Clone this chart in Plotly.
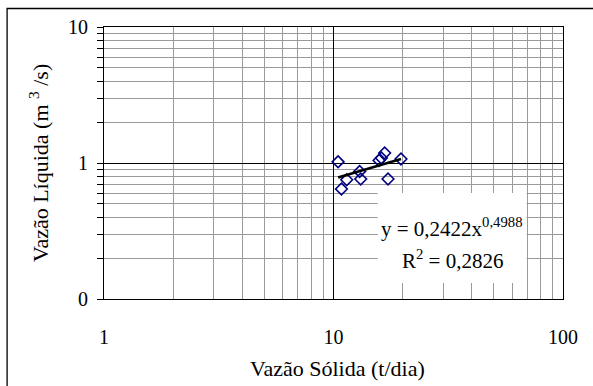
import numpy as np
import plotly.graph_objects as go

# data
vazao_solida = [10.47, 10.83, 11.42, 13.0, 13.14, 15.79, 16.17, 16.71, 17.28, 19.68]
vazao_liquida = [1.02, 0.644, 0.753, 0.867, 0.762, 1.045, 1.088, 1.184, 0.762, 1.07]

# power trendline y = a x^b (from label)
coef_a = 0.2422
coef_b = 0.4988
r2 = 0.2826

x_tickvals = [1, 10, 100]
x_ticktext = ["1", "10", "100"]
x_minorvals = [2, 3, 4, 5, 6, 7, 8, 9, 20, 30, 40, 50, 60, 70, 80, 90]
y_tickvals = [0.1, 1, 10]
y_ticktext = ["0", "1", "10"]
y_minorvals = [0.2, 0.3, 0.4, 0.5, 0.6, 0.7, 0.8, 0.9, 2, 3, 4, 5, 6, 7, 8, 9]

FONT = "Liberation Serif"

trend_x = np.linspace(min(vazao_solida), max(vazao_solida), 40)
trend_y = coef_a * trend_x ** coef_b

fig = go.Figure()
fig.add_trace(go.Scatter(
    x=vazao_solida, y=vazao_liquida, mode="markers",
    marker=dict(symbol="diamond-open", size=9, color="#000080", line=dict(width=1.6, color="#000080")),
    showlegend=False, hoverinfo="skip"))
fig.add_trace(go.Scatter(
    x=trend_x, y=trend_y, mode="lines",
    line=dict(color="black", width=2.6),
    showlegend=False, hoverinfo="skip"))

L, R, T, B = 104, 29.5, 27, 87
W, H = 593, 386
pw, ph = W - L - R, H - T - B

def px2paper_x(px):
    return (px - L) / pw

def px2paper_y(py):
    return (H - B - py) / ph

shapes = [
    dict(type="rect", xref="paper", yref="paper",
         x0=px2paper_x(378), x1=px2paper_x(527), y0=px2paper_y(283), y1=px2paper_y(193),
         fillcolor="white", line=dict(width=0), layer="above"),
    dict(type="rect", xref="paper", yref="paper",
         x0=px2paper_x(7), x1=px2paper_x(620), y0=px2paper_y(410), y1=px2paper_y(8.5),
         fillcolor="rgba(0,0,0,0)", line=dict(color="black", width=1.3), layer="above"),
]

annotations = [
    dict(xref="paper", yref="paper", x=px2paper_x(452), y=px2paper_y(227),
         text=f"y = {str(coef_a).replace('.', ',')}x<sup>{str(coef_b).replace('.', ',')}</sup>",
         showarrow=False, font=dict(family=FONT, size=21, color="black"), xanchor="center", yanchor="middle"),
    dict(xref="paper", yref="paper", x=px2paper_x(453), y=px2paper_y(259),
         text=f"R<sup>2</sup> = {str(r2).replace('.', ',')}",
         showarrow=False, font=dict(family=FONT, size=21, color="black"), xanchor="center", yanchor="middle"),
    dict(xref="paper", yref="paper", x=px2paper_x(338), y=px2paper_y(368),
         text="Vazão Sólida (t/dia)", showarrow=False,
         font=dict(family=FONT, size=22, color="black"), xanchor="center", yanchor="middle"),
    dict(xref="paper", yref="paper", x=px2paper_x(39), y=px2paper_y(163),
         text="Vazão Líquida (m <sup>3</sup> /s)", showarrow=False, textangle=-90,
         font=dict(family=FONT, size=22, color="black"), xanchor="center", yanchor="middle"),
]

fig.update_layout(
    width=W, height=H,
    margin=dict(l=L, r=R, t=T, b=B, autoexpand=False),
    paper_bgcolor="white", plot_bgcolor="white",
    font=dict(family=FONT, color="black"),
    shapes=shapes, annotations=annotations,
    xaxis=dict(type="log", range=[0, 2], tickmode="array", tickvals=x_tickvals, ticktext=x_ticktext,
               showgrid=True, gridcolor="black", gridwidth=1,
               minor=dict(tickmode="array", tickvals=x_minorvals, showgrid=True,
                          gridcolor="#9a9a9a", gridwidth=1, ticks=""),
               showline=True, linecolor="black", linewidth=1, mirror=True,
               ticks="outside", ticklen=20, tickcolor="rgba(0,0,0,0)", tickangle=0,
               tickfont=dict(family=FONT, size=20, color="black"),
               zeroline=False, automargin=False),
    yaxis=dict(type="log", range=[-1, 1], tickmode="array", tickvals=y_tickvals, ticktext=y_ticktext,
               showgrid=True, gridcolor="black", gridwidth=1,
               minor=dict(tickmode="array", tickvals=y_minorvals, showgrid=True,
                          gridcolor="#9a9a9a", gridwidth=1, ticks="outside", ticklen=6, tickcolor="black"),
               showline=True, linecolor="black", linewidth=1, mirror=True,
               ticks="outside", ticklen=6, tickcolor="black",
               tickfont=dict(family=FONT, size=20, color="black"),
               ticklabelstandoff=5,
               zeroline=False, automargin=False),
)

fig.write_html("out.html")
